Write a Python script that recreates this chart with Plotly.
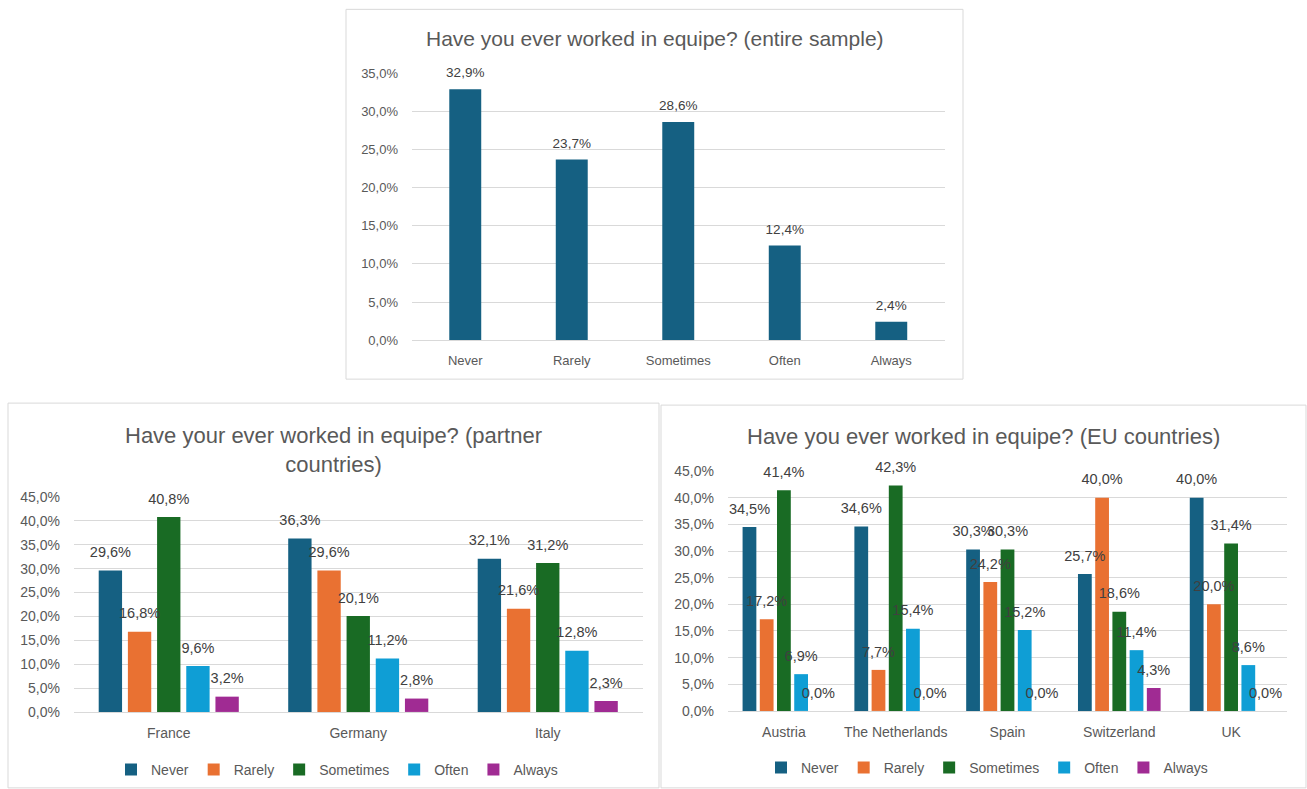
import plotly.graph_objects as go

# ---------------- data ----------------
answer_levels = ["Never", "Rarely", "Sometimes", "Often", "Always"]
overall_values = [32.9, 23.7, 28.6, 12.4, 2.4]

partner_countries = ["France", "Germany", "Italy"]
partner_never = [29.6, 36.3, 32.1]
partner_rarely = [16.8, 29.6, 21.6]
partner_sometimes = [40.8, 20.1, 31.2]
partner_often = [9.6, 11.2, 12.8]
partner_always = [3.2, 2.8, 2.3]

eu_countries = ["Austria", "The Netherlands", "Spain", "Switzerland", "UK"]
eu_never = [34.5, 34.6, 30.3, 25.7, 40.0]
eu_rarely = [17.2, 7.7, 24.2, 40.0, 20.0]
eu_sometimes = [41.4, 42.3, 30.3, 18.6, 31.4]
eu_often = [6.9, 15.4, 15.2, 11.4, 8.6]
eu_always = [0.0, 0.0, 0.0, 4.3, 0.0]

series_colors = ["#156082", "#E97132", "#196B24", "#0F9ED5", "#A02B93"]

# ---------------- helpers ----------------
W, H = 1307, 789
FONT = "Liberation Sans, Arial, sans-serif"
GRID = "#D9D9D9"
TXT = "#595959"
LBL = "#404040"

# the captured page comes out slightly squeezed vertically; compensate
V_OFF, V_SCALE = 7.65, 0.9803


def px(x):
    return x / W


def py(y):
    return 1 - ((y - V_OFF) / V_SCALE) / H


def fmt(v):
    return f"{v:.1f}".replace(".", ",") + "%"


fig = go.Figure()

# ---------------- top chart ----------------
fig.add_trace(go.Bar(
    x=answer_levels, y=overall_values, marker=dict(color=series_colors[0], line=dict(width=0)),
    width=0.3, xaxis="x", yaxis="y", showlegend=False, hoverinfo="skip", name="overall"))
fig.add_trace(go.Scatter(
    x=answer_levels, y=overall_values, mode="markers+text", text=[fmt(v) for v in overall_values],
    textposition="top center", marker=dict(size=12, opacity=0),
    textfont=dict(size=13.5, color=LBL, family=FONT), xaxis="x", yaxis="y",
    showlegend=False, hoverinfo="skip", cliponaxis=False, orientation="v"))

# ---------------- grouped charts ----------------
partner_series = [partner_never, partner_rarely, partner_sometimes, partner_often, partner_always]
eu_series = [eu_never, eu_rarely, eu_sometimes, eu_often, eu_always]

for cats, ser, xa, ya, leg in [(partner_countries, partner_series, "x2", "y2", "legend"),
                               (eu_countries, eu_series, "x3", "y3", "legend2")]:
    for name, vals, col in zip(answer_levels, ser, series_colors):
        fig.add_trace(go.Bar(
            x=cats, y=vals, name=name, marker=dict(color=col, line=dict(width=0)),
            xaxis=xa, yaxis=ya, legend=leg, showlegend=True, hoverinfo="skip",
            offsetgroup=name))
    for name, vals in zip(answer_levels, ser):
        fig.add_trace(go.Scatter(
            x=cats, y=vals, mode="markers+text", text=[fmt(v) for v in vals],
            textposition="top center", marker=dict(size=14, opacity=0),
            textfont=dict(size=14.5, color=LBL, family=FONT), xaxis=xa, yaxis=ya,
            showlegend=False, hoverinfo="skip", cliponaxis=False, orientation="v",
            offsetgroup=name))


def yaxis(domain, rng, anchor, size):
    return dict(domain=domain, range=rng, dtick=5, tickformat=".1f", ticksuffix="%",
                showgrid=True, gridcolor=GRID, gridwidth=1, zeroline=False, showline=False,
                tickfont=dict(size=size, color=TXT, family=FONT), ticklabelstandoff=13,
                anchor=anchor, fixedrange=True)


def xaxis(domain, anchor, size):
    return dict(domain=domain, anchor=anchor, showline=True, linecolor=GRID, linewidth=1,
                showgrid=False, ticks="", tickfont=dict(size=size, color=TXT, family=FONT),
                ticklabelstandoff=8, fixedrange=True)


fig.update_layout(
    width=W, height=H, autosize=False,
    margin=dict(l=0, r=0, t=0, b=0),
    paper_bgcolor="white", plot_bgcolor="white",
    font=dict(family=FONT, color=TXT),
    separators=",.",
    barmode="group", bargap=0.23, bargroupgap=0.2,
    scattermode="group",
    xaxis=xaxis([px(412), px(944.5)], "y", 13),
    yaxis=yaxis([py(340), py(73)], [0, 35], "x", 13),
    xaxis2=xaxis([px(74), px(642.5)], "y2", 14),
    yaxis2=yaxis([py(712), py(497)], [0, 45], "x2", 14),
    xaxis3=xaxis([px(728), px(1287)], "y3", 14),
    yaxis3=yaxis([py(711), py(471)], [0, 45], "x3", 14),
    legend=dict(orientation="h", x=px(337), y=py(770), xanchor="center", yanchor="middle",
                font=dict(size=14, color=TXT, family=FONT), bgcolor="rgba(0,0,0,0)",
                itemwidth=30, traceorder="normal"),
    legend2=dict(orientation="h", x=px(987), y=py(768), xanchor="center", yanchor="middle",
                 font=dict(size=14, color=TXT, family=FONT), bgcolor="rgba(0,0,0,0)",
                 itemwidth=30, traceorder="normal"),
    showlegend=True,
)

# boxes
for x0, y0, x1, y1 in [(346, 9, 963, 379), (8, 403, 659, 788), (661, 405, 1306, 788)]:
    fig.add_shape(type="rect", xref="paper", yref="paper", x0=px(x0), x1=px(x1),
                  y0=py(y1), y1=py(y0), line=dict(color=GRID, width=1), layer="below")

# titles
titles = [
    ("Have you ever worked in equipe? (entire sample)", 654.5, 38, 21),
    ("Have your ever worked in equipe? (partner<br>countries)", 333.5, 450, 22),
    ("Have you ever worked in equipe? (EU countries)", 984, 436, 22),
]
for t, x, y, s in titles:
    fig.add_annotation(text=t, xref="paper", yref="paper", x=px(x), y=py(y),
                       xanchor="center", yanchor="middle", showarrow=False,
                       font=dict(size=s, color=TXT, family=FONT))

fig.write_html(
    "out.html",
    config={"displayModeBar": False, "responsive": False},
    post_script=(
        "var h=document.documentElement,b=document.body;"
        "h.style.margin='0';h.style.padding='0';h.style.overflow='hidden';"
        "b.style.margin='0';b.style.padding='0';b.style.overflow='hidden';"
        "var d=document.getElementById('{plot_id}');"
        "d.style.position='fixed';d.style.top='0px';d.style.left='0px';"
    ),
)
